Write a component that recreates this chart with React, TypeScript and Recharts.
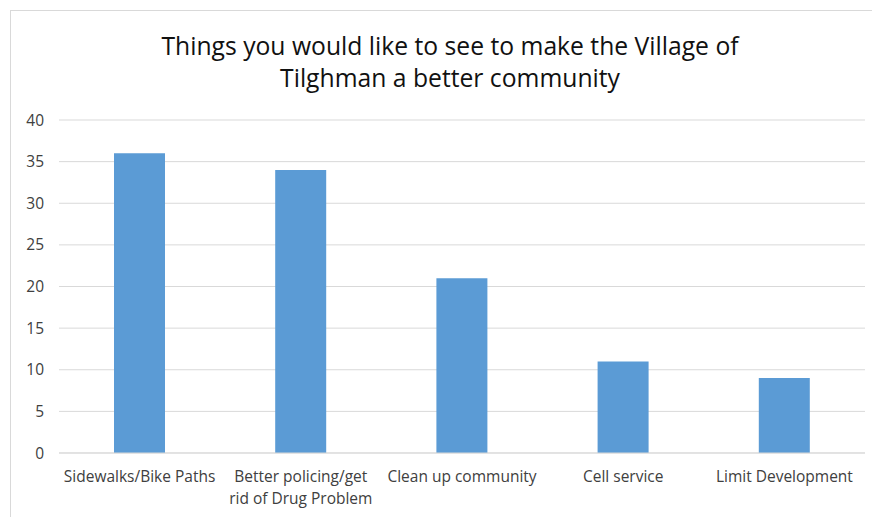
import React from 'react';
import { BarChart, Bar, XAxis, YAxis, CartesianGrid } from 'recharts';

const categories = [
  'Sidewalks/Bike Paths',
  'Better policing/get rid of Drug Problem',
  'Clean up community',
  'Cell service',
  'Limit Development'
];
// tick label lines as wrapped in the original
const tickLabels = [
  ['Sidewalks/Bike Paths'],
  ['Better policing/get', 'rid of Drug Problem'],
  ['Clean up community'],
  ['Cell service'],
  ['Limit Development']
];
const counts = [36, 34, 21, 11, 9];
const yTicks = [0, 5, 10, 15, 20, 25, 30, 35, 40];
const titleLines = ['Things you would like to see to make the Village of', 'Tilghman a better community'];

const chartData = categories.map((name, i) => ({ name, value: counts[i] }));

const FONT = '"Open Sans", sans-serif';

function CategoryTick(props: any) {
  const { x, y, payload } = props;
  const idx = categories.indexOf(payload.value);
  const lines = idx >= 0 ? tickLabels[idx] : [payload.value];
  return (
    <text
      x={x}
      y={y + 2}
      textAnchor="middle"
      fontSize={15.5}
      fontFamily={FONT}
      fill="#404040"
    >
      {lines.map((l: string, i: number) => (
        <tspan key={i} x={x} dy={i === 0 ? '0.71em' : 22}>
          {l}
        </tspan>
      ))}
    </text>
  );
}

export default function App() {
  return (
    <div style={{ position: 'relative', width: 872, height: 509, overflow: 'hidden', background: '#fff' }}>
      <div
        style={{
          position: 'absolute',
          left: 2,
          top: 2,
          width: 900,
          height: 600,
          border: '1px solid #d9d9d9',
          boxSizing: 'border-box'
        }}
      />
      <div
        style={{
          position: 'absolute',
          left: 0,
          top: 22,
          width: 884,
          textAlign: 'center',
          fontFamily: FONT,
          fontSize: 24.7,
          lineHeight: '32px',
          color: '#111'
        }}
      >
        {titleLines.map((l) => (
          <div key={l}>{l}</div>
        ))}
      </div>
      <div style={{ position: 'absolute', left: 0, top: 0 }}>
        <BarChart width={872} height={509} data={chartData} margin={{ top: 112, right: 15, left: 0, bottom: 0 }}>
          <CartesianGrid vertical={false} stroke="#d9d9d9" />
          <XAxis
            dataKey="name"
            height={64}
            tickLine={false}
            axisLine={{ stroke: '#d9d9d9' }}
            interval={0}
            tick={<CategoryTick />}
            tickMargin={10}
          />
          <YAxis
            width={51}
            domain={[0, 40]}
            ticks={yTicks}
            tickLine={false}
            axisLine={false}
            tickMargin={9}
            tick={{ fontSize: 15.5, fontFamily: FONT, fill: '#404040' }}
          />
          <Bar dataKey="value" fill="#5b9bd5" barSize={51} isAnimationActive={false} />
        </BarChart>
      </div>
    </div>
  );
}
